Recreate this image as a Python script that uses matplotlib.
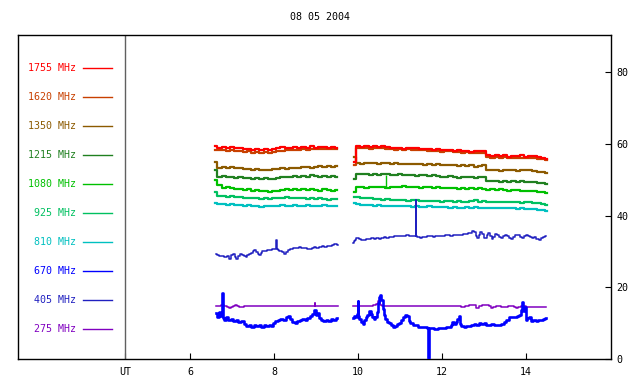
import numpy as np
import matplotlib
matplotlib.use("Agg")
import matplotlib.pyplot as plt

plt.rcParams['font.family'] = 'DejaVu Sans Mono'

TITLE = "08 05 2004"
FREQS = ["1755", "1620", "1350", "1215", "1080", "925", "810", "670", "405", "275"]
COLORS = {"1755": "#ff0000", "1620": "#c84000", "1350": "#8c5a00", "1215": "#208020",
          "1080": "#00c000", "925": "#00c060", "810": "#00c0c0", "670": "#0000ff",
          "405": "#2020c0", "275": "#8000c0"}
XTICKS = [6, 8, 10, 12, 14]
YTICKS = [0, 20, 40, 60, 80]
UT_MARK = 4.45

# upper channels: sampled every 0.1 h, two recording periods
t_seg1 = np.round(np.arange(6.6, 9.55, 0.1), 2)     # 30 samples
t_seg2 = np.round(np.arange(9.9, 14.55, 0.1), 2)    # 47 samples

upper_seg1 = {
    "1755": [59.4, 59.0, 59.2, 58.9, 59.1, 58.8, 58.9, 58.6, 58.7, 58.4,
             58.5, 58.3, 58.5, 58.4, 58.7, 58.9, 59.1, 58.8, 59.0, 59.2,
             58.9, 59.1, 59.0, 59.3, 59.0, 59.2, 59.1, 58.9, 59.2, 59.0],
    "1620": [58.3, 58.2, 58.4, 58.1, 58.2, 58.0, 57.9, 57.8, 57.9, 57.6,
             57.7, 57.5, 57.7, 57.6, 57.8, 58.0, 58.1, 58.3, 58.2, 58.4,
             58.3, 58.5, 58.4, 58.6, 58.5, 58.7, 58.6, 58.5, 58.7, 58.6],
    "1350": [55.0, 53.4, 53.6, 53.3, 53.5, 53.2, 53.3, 53.0, 53.1, 52.8,
             52.9, 52.6, 52.8, 52.7, 52.9, 53.1, 53.2, 53.0, 53.3, 53.4,
             53.2, 53.5, 53.6, 53.4, 53.7, 53.8, 53.6, 53.9, 53.7, 53.8],
    "1215": [52.8, 50.9, 51.1, 50.8, 50.9, 50.6, 50.8, 50.5, 50.6, 50.3,
             50.5, 50.2, 50.4, 50.2, 50.3, 50.5, 50.7, 50.9, 50.8, 51.0,
             50.8, 51.1, 50.9, 51.2, 51.0, 50.9, 51.1, 50.8, 51.0, 50.9],
    "1080": [50.0, 48.6, 47.8, 48.0, 47.6, 47.4, 47.5, 47.2, 47.3, 47.0,
             47.1, 46.8, 46.9, 46.7, 47.0, 46.9, 47.1, 47.3, 47.1, 47.4,
             47.2, 47.3, 47.1, 47.4, 47.2, 47.0, 47.3, 47.1, 46.9, 47.2],
    "925":  [46.7, 45.4, 45.6, 45.3, 45.4, 45.1, 45.2, 44.9, 45.0, 44.8,
             44.9, 44.6, 44.8, 44.7, 44.9, 45.0, 44.8, 45.1, 44.9, 45.0,
             44.8, 44.9, 44.7, 44.9, 44.6, 44.8, 44.7, 44.5, 44.7, 44.6],
    "810":  [43.4, 43.2, 43.3, 43.0, 43.2, 42.9, 43.0, 42.8, 42.9, 42.6,
             42.8, 42.5, 42.7, 42.6, 42.8, 42.7, 42.9, 42.8, 42.7, 42.9,
             42.8, 42.7, 42.9, 42.8, 42.7, 42.8, 42.9, 42.7, 42.8, 42.7],
}
upper_seg2 = {
    "1755": [55.0, 59.4, 59.2, 59.4, 59.1, 59.3, 59.2, 59.4, 59.1, 59.0,
             58.8, 58.9, 58.7, 58.9, 58.8, 58.9, 58.6, 58.7, 58.5, 58.4,
             58.5, 58.2, 58.4, 58.3, 58.1, 58.2, 57.9, 58.1, 57.8, 58.0,
             57.9, 58.1, 57.0, 56.7, 56.9, 56.6, 56.8, 56.5, 56.7, 56.6,
             56.8, 56.5, 56.7, 56.6, 56.4, 56.2, 55.8],
    "1620": [54.0, 59.0, 58.8, 59.0, 58.7, 58.9, 58.8, 58.9, 58.7, 58.6,
             58.4, 58.5, 58.3, 58.5, 58.4, 58.4, 58.2, 58.3, 58.1, 58.0,
             58.1, 57.8, 58.0, 57.9, 57.7, 57.8, 57.5, 57.7, 57.4, 57.6,
             57.5, 57.6, 56.4, 56.2, 56.3, 56.1, 56.3, 56.0, 56.2, 56.1,
             56.2, 56.0, 56.1, 56.0, 55.9, 55.8, 55.5],
    "1350": [56.5, 54.7, 54.5, 54.8, 54.6, 54.7, 54.5, 54.8, 54.6, 54.4,
             54.6, 54.5, 54.3, 54.5, 54.4, 54.3, 54.5, 54.2, 54.3, 54.1,
             54.3, 54.2, 54.0, 54.2, 54.0, 53.9, 54.1, 53.8, 54.0, 53.7,
             53.9, 54.2, 52.8, 52.6, 52.8, 52.5, 52.7, 52.6, 52.8, 52.5,
             52.7, 52.6, 52.8, 52.5, 52.3, 52.2, 51.8],
    "1215": [50.2, 51.6, 51.5, 51.7, 51.4, 51.6, 51.3, 51.5, 51.6, 51.4,
             51.3, 51.5, 51.2, 51.4, 51.3, 51.1, 51.3, 51.2, 51.0, 51.2,
             51.1, 50.9, 50.7, 51.0, 50.8, 50.6, 50.9, 50.7, 50.8, 50.6,
             50.8, 50.9, 49.8, 49.6, 49.8, 49.5, 49.7, 49.4, 49.6, 49.5,
             49.6, 49.4, 49.5, 49.3, 49.2, 49.0, 48.7],
    "1080": [46.5, 47.9, 48.1, 47.8, 48.0, 47.9, 48.1, 48.0, 47.8, 48.1,
             48.0, 47.9, 48.2, 48.0, 47.9, 48.1, 47.8, 48.0, 47.9, 47.7,
             47.9, 47.8, 47.6, 47.8, 47.7, 47.5, 47.7, 47.5, 47.6, 47.4,
             47.6, 47.5, 47.2, 47.3, 47.1, 47.3, 47.2, 47.0, 47.2, 47.1,
             46.9, 47.0, 46.9, 46.8, 46.7, 46.6, 46.3],
    "925":  [45.2, 45.1, 44.9, 45.0, 44.8, 44.7, 44.6, 44.5, 44.6, 44.4,
             44.5, 44.3, 44.4, 44.2, 44.4, 44.3, 44.1, 44.2, 44.0, 44.2,
             44.1, 43.9, 44.1, 44.0, 43.9, 44.0, 43.8, 43.9, 44.0, 44.3,
             43.9, 44.0, 43.8, 43.9, 43.7, 43.9, 43.8, 43.7, 43.9, 43.8,
             43.6, 43.8, 43.7, 43.5, 43.4, 43.3, 43.1],
    "810":  [43.4, 43.2, 43.0, 43.1, 42.9, 42.8, 42.9, 42.7, 42.8, 42.7,
             42.8, 42.6, 42.7, 42.6, 42.5, 42.7, 42.5, 42.4, 42.6, 42.4,
             42.5, 42.3, 42.4, 42.2, 42.3, 42.2, 42.1, 42.3, 42.2, 42.5,
             42.1, 42.2, 42.0, 42.2, 42.1, 42.0, 42.2, 42.0, 42.1, 41.9,
             42.0, 41.9, 41.8, 41.9, 41.7, 41.6, 41.4],
}
# short spikes on the upper channels: (hour, base, top)
spikes_1080 = [(10.66, 48.0, 51.3)]

# lower channels: irregular sample times (hours) and flux values
t405_1 = [6.62, 6.66, 6.71, 6.78, 6.85, 6.90, 6.95, 7.00, 7.04, 7.08, 7.11, 7.16, 7.21,
          7.25, 7.30, 7.34, 7.38, 7.42, 7.46, 7.51, 7.55, 7.59, 7.63, 7.66, 7.70, 7.74,
          7.80, 7.86, 7.92, 7.97, 8.02, 8.05, 8.06, 8.07, 8.10, 8.15, 8.20, 8.25, 8.30,
          8.35, 8.42, 8.49, 8.56, 8.62, 8.68, 8.74, 8.80, 8.86, 8.92, 8.97, 9.04, 9.10,
          9.16, 9.22, 9.28, 9.34, 9.40, 9.46, 9.49, 9.52]
v405_1 = [29.2, 28.9, 28.6, 28.8, 28.5, 28.7, 28.0, 29.0, 29.2, 28.5, 28.0, 28.8, 29.3,
          29.0, 28.7, 28.5, 29.0, 29.3, 29.6, 30.0, 30.4, 29.8, 29.2, 28.9, 29.5, 30.0,
          30.2, 30.5, 30.4, 30.6, 30.7, 30.8, 33.2, 30.8, 30.3, 30.0, 29.8, 29.3, 29.9,
          30.4, 30.8, 31.1, 31.0, 31.2, 31.0, 31.1, 30.8, 30.7, 31.0, 31.2, 31.1, 31.3,
          31.4, 31.3, 31.6, 31.5, 31.8, 32.0, 32.2, 31.7]
t405_2 = [9.88, 9.90, 9.94, 9.98, 10.04, 10.10, 10.16, 10.22, 10.28, 10.34, 10.40, 10.46,
          10.52, 10.58, 10.64, 10.70, 10.76, 10.82, 10.88, 10.94, 11.00, 11.06, 11.12,
          11.18, 11.24, 11.30, 11.36, 11.37, 11.38, 11.44, 11.50, 11.56, 11.62, 11.68,
          11.74, 11.80, 11.86, 11.92, 11.98, 12.04, 12.10, 12.16, 12.22, 12.28, 12.34,
          12.40, 12.46, 12.52, 12.58, 12.64, 12.70, 12.74, 12.78, 12.82, 12.85, 12.89,
          12.93, 12.97, 13.01, 13.04, 13.08, 13.12, 13.16, 13.20, 13.24, 13.28, 13.32,
          13.37, 13.42, 13.47, 13.52, 13.57, 13.62, 13.67, 13.72, 13.77, 13.82, 13.87,
          13.92, 13.97, 14.02, 14.07, 14.12, 14.17, 14.22, 14.27, 14.32, 14.37, 14.42, 14.47]
v405_2 = [32.4, 32.8, 33.3, 33.7, 33.5, 33.3, 33.2, 33.4, 33.5, 33.7, 33.6, 33.8,
          33.6, 33.9, 34.0, 33.9, 34.1, 34.0, 34.2, 34.3, 34.2, 34.4, 34.3,
          34.5, 34.2, 34.3, 34.2, 44.5, 34.2, 34.0, 33.9, 34.1, 34.0, 34.2,
          34.3, 34.1, 34.3, 34.4, 34.2, 34.4, 34.5, 34.6, 34.4, 34.6, 34.5,
          34.7, 34.6, 34.8, 34.9, 35.1, 35.2, 35.6, 35.3, 34.2, 33.7, 34.5,
          35.5, 35.0, 33.9, 33.7, 34.6, 35.1, 34.4, 33.6, 34.0, 34.8, 34.7,
          34.0, 33.7, 34.2, 34.6, 34.3, 33.8, 33.5, 34.1, 34.6, 34.5, 34.0,
          33.9, 34.3, 34.6, 34.4, 34.0, 33.9, 34.1, 33.6, 33.2, 33.8, 34.1, 34.3]

t670_1 = [6.62, 6.66, 6.70, 6.74, 6.76, 6.78, 6.82, 6.88, 6.94, 7.00, 7.06, 7.12, 7.18,
          7.24, 7.30, 7.36, 7.42, 7.48, 7.54, 7.60, 7.66, 7.72, 7.78, 7.84, 7.90, 7.96,
          8.00, 8.06, 8.12, 8.18, 8.24, 8.30, 8.36, 8.40, 8.46, 8.52, 8.58, 8.64, 8.70,
          8.76, 8.82, 8.88, 8.94, 8.97, 9.00, 9.04, 9.08, 9.14, 9.20, 9.26, 9.32, 9.38,
          9.44, 9.50]
v670_1 = [12.8, 11.8, 13.2, 12.0, 18.4, 11.5, 11.0, 11.6, 10.8, 11.3, 10.5, 11.0, 10.2,
          10.6, 9.8, 9.2, 9.6, 9.0, 9.5, 9.1, 9.4, 9.0, 9.5, 9.1, 9.6, 9.2,
          10.0, 10.6, 10.9, 11.3, 10.8, 11.6, 12.0, 11.2, 10.4, 10.0, 10.7, 10.9, 11.3,
          11.0, 11.5, 11.9, 12.6, 13.6, 12.3, 12.9, 11.4, 10.8, 10.6, 11.0, 10.7, 11.3,
          11.0, 11.4]
t670_2 = [9.88, 9.92, 9.96, 9.99, 10.00, 10.01, 10.05, 10.09, 10.12, 10.16, 10.20, 10.24,
          10.28, 10.31, 10.35, 10.39, 10.43, 10.46, 10.49, 10.52, 10.54, 10.57, 10.60,
          10.63, 10.67, 10.71, 10.75, 10.80, 10.85, 10.90, 10.95, 11.00, 11.05, 11.10,
          11.15, 11.18, 11.22, 11.27, 11.32, 11.38, 11.45, 11.52, 11.60, 11.66, 11.67,
          11.68, 11.75, 11.85, 11.95, 12.05, 12.12, 12.18, 12.22, 12.26, 12.30, 12.34,
          12.38, 12.40, 12.43, 12.48, 12.54, 12.60, 12.66, 12.72, 12.78, 12.84, 12.90,
          12.96, 13.02, 13.08, 13.14, 13.20, 13.28, 13.36, 13.44, 13.50, 13.56, 13.62,
          13.68, 13.74, 13.80, 13.85, 13.89, 13.92, 13.95, 13.98, 14.01, 14.05, 14.09,
          14.14, 14.20, 14.26, 14.32, 14.38, 14.44, 14.48]
v670_2 = [11.4, 12.0, 11.8, 12.5, 16.2, 12.0, 11.2, 10.2, 9.8, 10.8, 11.8, 12.4,
          13.4, 12.6, 11.8, 11.2, 11.6, 13.2, 15.5, 17.2, 17.9, 16.4, 14.0,
          12.3, 11.2, 10.4, 10.0, 9.4, 9.0, 9.3, 9.8, 10.0, 10.8, 11.6,
          12.4, 12.0, 10.6, 10.0, 9.6, 9.4, 9.0, 8.9, 8.8, 8.7, 0.3,
          8.7, 8.6, 8.5, 8.6, 8.6, 8.8, 9.0, 9.6, 10.2, 9.7, 10.4,
          11.2, 12.1, 9.9, 9.3, 9.0, 9.3, 9.1, 9.6, 9.8, 9.6, 10.1,
          9.9, 10.0, 9.6, 9.5, 9.7, 9.4, 9.5, 9.9, 10.2, 10.8, 11.8,
          11.6, 11.7, 12.0, 12.4, 13.6, 15.8, 13.4, 14.6, 10.8, 11.5, 11.8,
          10.6, 11.0, 10.6, 10.8, 11.0, 11.2, 11.5]

t275_1 = [6.62, 6.70, 6.78, 6.84, 6.90, 6.95, 7.00, 7.05, 7.09, 7.14, 7.20, 7.26, 7.32,
          7.40, 7.50, 7.60, 7.70, 7.80, 7.90, 8.00, 8.10, 8.20, 8.30, 8.40, 8.50, 8.60,
          8.70, 8.80, 8.90, 8.96, 8.97, 8.98, 9.10, 9.20, 9.30, 9.40, 9.52]
v275_1 = [14.9, 14.9, 15.0, 14.8, 14.5, 14.3, 14.5, 14.9, 15.1, 14.9, 14.5, 14.6, 14.8,
          14.8, 14.9, 14.8, 14.8, 14.9, 14.8, 14.8, 14.8, 14.9, 14.8, 14.8, 14.8, 14.8,
          14.8, 14.8, 14.8, 14.8, 15.6, 14.8, 14.8, 14.8, 14.8, 14.8, 14.8]
t275_2 = [9.88, 10.00, 10.10, 10.20, 10.30, 10.40, 10.46, 10.50, 10.54, 10.60, 10.80,
          11.00, 11.20, 11.40, 11.60, 11.80, 12.00, 12.20, 12.40, 12.50, 12.60, 12.70,
          12.78, 12.85, 12.92, 13.00, 13.08, 13.14, 13.18, 13.24, 13.30, 13.36, 13.42,
          13.48, 13.54, 13.60, 13.68, 13.74, 13.78, 13.84, 13.90, 13.97, 14.04, 14.12,
          14.20, 14.28, 14.36, 14.42, 14.48]
v275_2 = [14.8, 14.9, 14.8, 14.8, 14.9, 15.0, 15.4, 16.2, 15.0, 14.8, 14.8,
          14.8, 14.8, 14.8, 14.7, 14.8, 14.8, 14.7, 14.8, 14.6, 14.9, 15.0,
          15.1, 14.3, 14.7, 15.2, 15.0, 14.9, 14.3, 14.6, 14.9, 14.7, 14.4,
          14.5, 14.6, 14.8, 14.9, 14.6, 14.3, 14.6, 14.9, 14.7, 14.4,
          14.4, 14.5, 14.6, 14.5, 14.6, 14.5]

lower = {
    "275": [(t275_1, v275_1), (t275_2, v275_2)],
    "670": [(t670_1, v670_1), (t670_2, v670_2)],
    "405": [(t405_1, v405_1), (t405_2, v405_2)],
}

fig = plt.figure(figsize=(6.4, 3.84), dpi=100)
ax = fig.add_axes([18/640, 1 - 359/384, 593/640, 324/384])

# lower channels first, upper ones on top (1755 last)
for f in ["275", "670", "405"]:
    for t, v in lower[f]:
        ax.plot(t, v, color=COLORS[f], lw=1.9 if f == "670" else 1.1,
                drawstyle="steps-mid", zorder=3)
for f in ["810", "925", "1080", "1215", "1350", "1620", "1755"]:
    ax.plot(t_seg1, upper_seg1[f], color=COLORS[f], lw=1.6, drawstyle="steps-mid", zorder=2)
    ax.plot(t_seg2, upper_seg2[f], color=COLORS[f], lw=1.6, drawstyle="steps-mid", zorder=2)
for t, lo, hi in spikes_1080:
    ax.vlines(t, lo, hi, color=COLORS["1080"], lw=1, zorder=2)

# channel key on the left
key_y = np.linspace(81.2, 8.3, len(FREQS))
for f, y in zip(FREQS, key_y):
    ax.text(3.28, y, f"{f} MHz", color=COLORS[f], ha="right", va="center", fontsize=7.2)
    ax.plot([3.45, 4.14], [y, y], color=COLORS[f], lw=1)

ax.axvline(UT_MARK, color="#606060", lw=1)

ax.set_xlim(1.9, 16.02)
ax.set_ylim(0, 90.4)
ax.set_xticks([UT_MARK] + XTICKS)
ax.set_xticklabels(["UT"] + [str(x) for x in XTICKS], fontsize=7.2)
ax.set_yticks(YTICKS)
ax.set_yticklabels([str(y) for y in YTICKS], fontsize=7.2)
ax.tick_params(axis="x", direction="in", length=4, pad=6)
ax.tick_params(axis="y", direction="in", length=4, pad=4, left=False, labelleft=False,
               right=True, labelright=True)
for s in ax.spines.values():
    s.set_color("black")
    s.set_linewidth(1)

fig.text(0.5, 1 - 17/384, TITLE, ha="center", va="center", fontsize=7.2)

fig.savefig("out.png", dpi=100)
